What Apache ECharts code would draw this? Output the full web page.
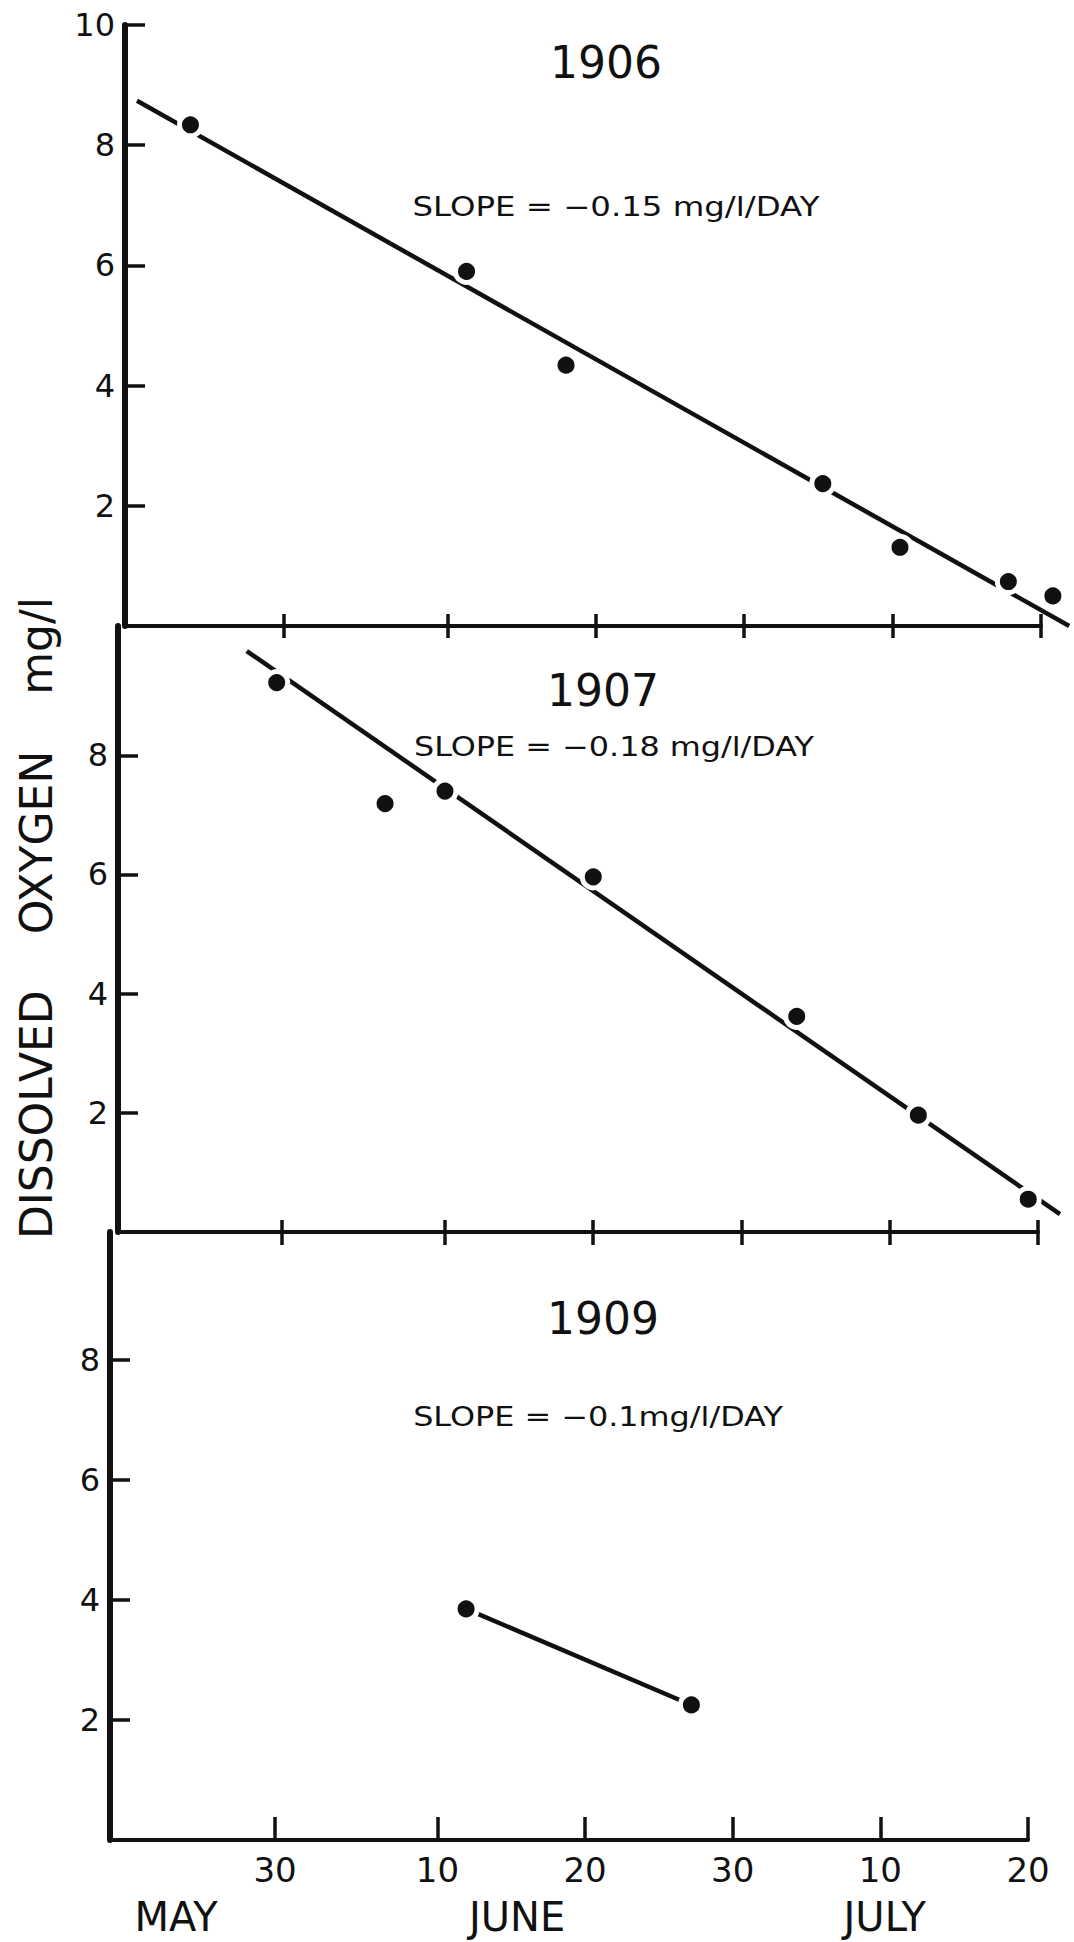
<!DOCTYPE html>
<html>
<head>
<meta charset="utf-8">
<title>Dissolved oxygen 1906 1907 1909</title>
<script src="https://cdn.jsdelivr.net/npm/echarts@6/dist/echarts.min.js"></script>
<style>
  html, body { margin: 0; padding: 0; background: #fff; }
  #chart { width: 1074px; height: 1942px; }
</style>
</head>
<body>
<div id="chart"></div>
<script>
// x = day number counted from 1 May (30 = 30 May, 41 = 10 June ...)
const tickDays = [30, 41, 51, 61, 71, 81]
const tickLabels = ['30', '10', '20', '30', '10', '20']
const monthDays = [23.3, 46.4, 71.3]
const monthLabels = ['MAY', 'JUNE', 'JULY']
const yTicksTop = [2, 4, 6, 8, 10]
const yTicks = [2, 4, 6, 8]

const years = ['1906', '1907', '1909']
const slopeTexts = [
  'SLOPE = \u22120.15 mg/l/DAY',
  'SLOPE = \u22120.18 mg/l/DAY',
  'SLOPE = \u22120.1mg/l/DAY'
]

// measured points, dissolved oxygen mg/l
const days1906 = [23.7, 42.3, 49.0, 66.3, 71.5, 78.8, 81.8]
const do1906 = [8.34, 5.90, 4.34, 2.37, 1.31, 0.74, 0.50]
const fitDays1906 = [20.1, 82.9]
const fitDo1906 = [8.74, 0.0]

const days1907 = [29.66, 36.97, 41.01, 51.01, 64.73, 72.93, 80.34]
const do1907 = [9.22, 7.19, 7.40, 5.96, 3.62, 1.96, 0.55]
const fitDays1907 = [27.64, 82.48]
const fitDo1907 = [9.75, 0.30]

const days1909 = [42.94, 58.2]
const do1909 = [3.85, 2.25]

const ink = '#111'
const fontFamily = '"DejaVu Sans", sans-serif'

function pairs(xs, ys) {
  return xs.map((x, i) => [x, ys[i]])
}

// bottom axis of a panel; a second copy with outside ticks makes them cross the line
function dayAxis(gridIndex, min, extra) {
  return Object.assign({
    type: 'value',
    gridIndex: gridIndex,
    min: min,
    max: 81,
    position: 'bottom',
    axisLine: { show: true, onZero: false, lineStyle: { color: ink, width: 4 } },
    axisTick: { show: true, inside: true, length: 12, customValues: tickDays, lineStyle: { color: ink, width: 3.5 } },
    axisLabel: { show: false },
    splitLine: { show: false }
  }, extra)
}

function doAxis(gridIndex, max, ticks) {
  return {
    type: 'value',
    gridIndex: gridIndex,
    min: 0,
    max: max,
    axisLine: { show: true, onZero: false, lineStyle: { color: ink, width: 6 } },
    axisTick: { show: true, inside: true, length: 20, customValues: ticks, lineStyle: { color: ink, width: 3.5 } },
    axisLabel: { show: true, customValues: ticks, margin: 10, color: ink, fontSize: 32, fontFamily: fontFamily },
    splitLine: { show: false }
  }
}

// fitted line: one segment, drawn through the axes so it may run past the last tick
function fitSeries(xIdx, yIdx, xs, ys) {
  return {
    type: 'custom',
    xAxisIndex: xIdx,
    yAxisIndex: yIdx,
    data: [[xs[0], ys[0], xs[1], ys[1]]],
    encode: { x: [0, 2], y: [1, 3] },
    clip: false,
    silent: true,
    z: 2,
    renderItem: function (params, api) {
      const p0 = api.coord([api.value(0), api.value(1)])
      const p1 = api.coord([api.value(2), api.value(3)])
      return {
        type: 'line',
        shape: { x1: p0[0], y1: p0[1], x2: p1[0], y2: p1[1] },
        style: { stroke: ink, lineWidth: 4.5, fill: null }
      }
    }
  }
}

function dotSeries(xIdx, yIdx, data) {
  return {
    type: 'scatter',
    xAxisIndex: xIdx,
    yAxisIndex: yIdx,
    data: data,
    symbol: 'circle',
    symbolSize: 22,
    clip: false,
    silent: true,
    itemStyle: { color: ink, opacity: 1, borderColor: '#fff', borderWidth: 5 },
    z: 3
  }
}

function label(text, x, y, size, extra) {
  return Object.assign({
    type: 'text',
    x: x,
    y: y,
    style: {
      text: text,
      fill: ink,
      fontSize: size,
      fontFamily: fontFamily,
      align: 'center',
      verticalAlign: 'middle',
      textAlign: 'center',
      textVerticalAlign: 'middle'
    }
  }, extra)
}

const chart = echarts.init(document.getElementById('chart'), null, { renderer: 'svg' })

const option = {
  backgroundColor: '#fff',
  animation: false,
  grid: [
    { left: 125, top: 25, width: 916, height: 601, outerBoundsMode: 'none' },
    { left: 118, top: 626, width: 920, height: 606, outerBoundsMode: 'none' },
    { left: 110, top: 1232, width: 918, height: 608, outerBoundsMode: 'none' }
  ],
  xAxis: [
    dayAxis(0, 19.29),
    dayAxis(0, 19.29, { axisLine: { show: false }, axisTick: { show: true, inside: false, length: 12, customValues: tickDays, lineStyle: { color: ink, width: 3.5 } } }),
    dayAxis(1, 18.96),
    dayAxis(1, 18.96, { axisLine: { show: false }, axisTick: { show: true, inside: false, length: 13, customValues: tickDays, lineStyle: { color: ink, width: 3.5 } } }),
    dayAxis(2, 18.82, {
      axisTick: { show: true, inside: true, length: 23, customValues: tickDays, lineStyle: { color: ink, width: 3.5 } },
      axisLabel: {
        show: true,
        customValues: tickDays,
        margin: 13,
        color: ink,
        fontSize: 34,
        fontFamily: fontFamily,
        formatter: v => tickLabels[tickDays.indexOf(v)]
      }
    }),
    dayAxis(2, 18.82, {
      axisLine: { show: false },
      axisTick: { show: false },
      axisLabel: {
        show: true,
        customValues: monthDays,
        margin: 57,
        color: ink,
        fontSize: 40,
        fontFamily: fontFamily,
        formatter: v => monthLabels[monthDays.indexOf(v)]
      }
    })
  ],
  yAxis: [
    doAxis(0, 10, yTicksTop),
    doAxis(1, 10.17, yTicks),
    doAxis(2, 10.13, yTicks)
  ],
  series: [
    fitSeries(0, 0, fitDays1906, fitDo1906),
    dotSeries(0, 0, pairs(days1906, do1906)),
    fitSeries(2, 1, fitDays1907, fitDo1907),
    dotSeries(2, 1, pairs(days1907, do1907)),
    fitSeries(4, 2, days1909, do1909),
    dotSeries(4, 2, pairs(days1909, do1909))
  ],
  graphic: [
    label(years[0], 606, 62, 44),
    label(years[1], 603, 690, 44),
    label(years[2], 603, 1318, 44),
    label(slopeTexts[0], 616, 206, 27, { scaleX: 1.2 }),
    label(slopeTexts[1], 614, 747, 27, { scaleX: 1.18 }),
    label(slopeTexts[2], 598, 1417, 27, { scaleX: 1.18 }),
    label('DISSOLVED    OXYGEN    mg/l', 36, 918, 44, { rotation: Math.PI / 2 })
  ]
}

chart.setOption(option)
</script>
</body>
</html>
